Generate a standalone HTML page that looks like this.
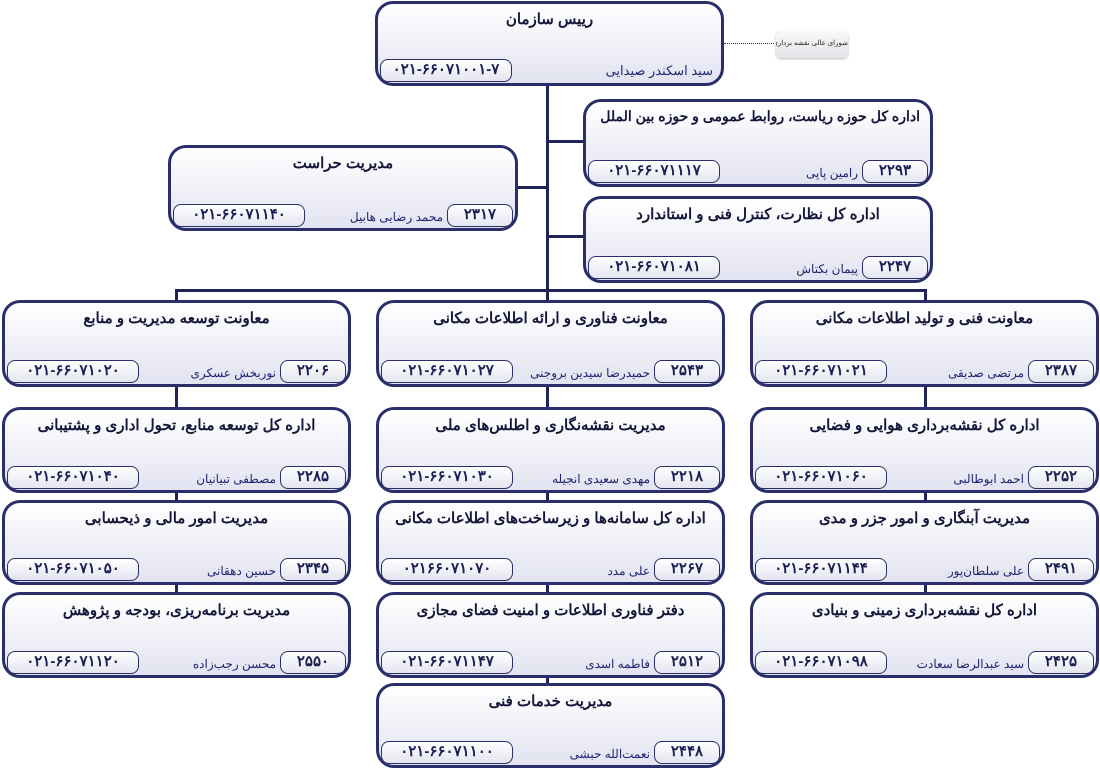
<!DOCTYPE html>
<html><head><meta charset="utf-8"><style>
body{margin:0;width:1100px;height:768px;background:#fff;position:relative;overflow:hidden;font-family:"Liberation Sans","Noto Sans CJK SC",sans-serif;}
.b{position:absolute;box-sizing:border-box;border:3px solid #2a2f6b;border-radius:18px;background:linear-gradient(#ffffff,#e2e3f1);}
.t{position:absolute;left:0;right:0;top:6px;text-align:center;direction:rtl;font-weight:bold;font-size:15px;color:#15173a;white-space:nowrap;}
.p{position:absolute;box-sizing:border-box;bottom:1px;height:23px;border:1.5px solid #2a2f6b;border-radius:8px;background:linear-gradient(#ffffff,#e4e5ef);font-weight:bold;font-size:15px;color:#1b1f55;text-align:center;line-height:20px;}
.ph{left:2px;width:132px;direction:ltr;}
.ex{right:2px;width:66px;}
.n{position:absolute;bottom:4px;right:72px;direction:rtl;font-size:12px;color:#1d2470;}
.l{position:absolute;background:#1f2356;}
</style></head><body>
<div class="l" style="left:546px;top:84px;width:3px;height:208px"></div>
<div class="l" style="left:175px;top:289px;width:752px;height:3px"></div>
<div class="l" style="left:175px;top:289px;width:3px;height:12px"></div>
<div class="l" style="left:924px;top:289px;width:3px;height:12px"></div>
<div class="l" style="left:546px;top:289px;width:3px;height:12px"></div>
<div class="l" style="left:546px;top:140px;width:38px;height:3px"></div>
<div class="l" style="left:546px;top:235px;width:38px;height:3px"></div>
<div class="l" style="left:516px;top:186px;width:32px;height:3px"></div>
<div class="l" style="left:175px;top:385px;width:3px;height:210px"></div>
<div class="l" style="left:546px;top:385px;width:3px;height:300px"></div>
<div class="l" style="left:924px;top:385px;width:3px;height:210px"></div>
<div style="position:absolute;left:724px;top:43px;width:50px;border-top:1.5px dotted #333"></div>
<div style="position:absolute;left:776px;top:30px;width:72px;height:28px;border-radius:5px;background:linear-gradient(#fafafa,#e4e4ea);box-shadow:0 1px 2px #bbb;font-size:7px;text-align:center;line-height:28px;direction:rtl;color:#222;white-space:nowrap;overflow:hidden">شورای عالی نقشه برداری</div>

<div class="b" style="left:375px;top:1px;width:349px;height:85px"><div class="t">رییس سازمان</div><div class="p ph">۰۲۱-۶۶۰۷۱۰۰۱-۷</div><div class="n" style="right:8px;font-size:13px">سید اسکندر صیدایی</div></div>
<div class="b" style="left:583px;top:99px;width:350px;height:88px"><div class="t" style="text-align:right;right:10px;font-size:14px">اداره کل حوزه ریاست، روابط عمومی و حوزه بین الملل</div><div class="p ph">۰۲۱-۶۶۰۷۱۱۱۷</div><div class="n">رامین پاپی</div><div class="p ex">۲۲۹۳</div></div>
<div class="b" style="left:583px;top:196px;width:350px;height:87px"><div class="t">اداره کل نظارت، کنترل فنی و استاندارد</div><div class="p ph">۰۲۱-۶۶۰۷۱۰۸۱</div><div class="n">پیمان بکتاش</div><div class="p ex">۲۲۴۷</div></div>
<div class="b" style="left:168px;top:145px;width:350px;height:86px"><div class="t">مدیریت حراست</div><div class="p ph">۰۲۱-۶۶۰۷۱۱۴۰</div><div class="n">محمد رضایی هابیل</div><div class="p ex">۲۳۱۷</div></div>

<div class="b" style="left:2px;top:300px;width:349px;height:87px"><div class="t">معاونت توسعه مدیریت و منابع</div><div class="p ph">۰۲۱-۶۶۰۷۱۰۲۰</div><div class="n">نوربخش عسکری</div><div class="p ex">۲۲۰۶</div></div>
<div class="b" style="left:2px;top:407px;width:349px;height:86px"><div class="t">اداره کل توسعه منابع، تحول اداری و پشتیبانی</div><div class="p ph">۰۲۱-۶۶۰۷۱۰۴۰</div><div class="n">مصطفی تبیانیان</div><div class="p ex">۲۲۸۵</div></div>
<div class="b" style="left:2px;top:500px;width:349px;height:85px"><div class="t">مدیریت امور مالی و ذیحسابی</div><div class="p ph">۰۲۱-۶۶۰۷۱۰۵۰</div><div class="n">حسین دهقانی</div><div class="p ex">۲۳۴۵</div></div>
<div class="b" style="left:2px;top:592px;width:349px;height:86px"><div class="t">مدیریت برنامه‌ریزی، بودجه و پژوهش</div><div class="p ph">۰۲۱-۶۶۰۷۱۱۲۰</div><div class="n">محسن رجب‌زاده</div><div class="p ex">۲۵۵۰</div></div>

<div class="b" style="left:376px;top:300px;width:349px;height:87px"><div class="t">معاونت فناوری و ارائه اطلاعات مکانی</div><div class="p ph">۰۲۱-۶۶۰۷۱۰۲۷</div><div class="n">حمیدرضا سیدین بروجنی</div><div class="p ex">۲۵۴۳</div></div>
<div class="b" style="left:376px;top:407px;width:349px;height:86px"><div class="t">مدیریت نقشه‌نگاری و اطلس‌های ملی</div><div class="p ph">۰۲۱-۶۶۰۷۱۰۳۰</div><div class="n">مهدی سعیدی انجیله</div><div class="p ex">۲۲۱۸</div></div>
<div class="b" style="left:376px;top:500px;width:349px;height:85px"><div class="t">اداره کل سامانه‌ها و زیرساخت‌های اطلاعات مکانی</div><div class="p ph">۰۲۱۶۶۰۷۱۰۷۰</div><div class="n">علی مدد</div><div class="p ex">۲۲۶۷</div></div>
<div class="b" style="left:376px;top:592px;width:349px;height:86px"><div class="t">دفتر فناوری اطلاعات و امنیت فضای مجازی</div><div class="p ph">۰۲۱-۶۶۰۷۱۱۴۷</div><div class="n">فاطمه اسدی</div><div class="p ex">۲۵۱۲</div></div>
<div class="b" style="left:376px;top:683px;width:349px;height:85px"><div class="t">مدیریت خدمات فنی</div><div class="p ph">۰۲۱-۶۶۰۷۱۱۰۰</div><div class="n">نعمت‌الله حبشی</div><div class="p ex">۲۴۴۸</div></div>

<div class="b" style="left:750px;top:300px;width:349px;height:87px"><div class="t">معاونت فنی و تولید اطلاعات مکانی</div><div class="p ph">۰۲۱-۶۶۰۷۱۰۲۱</div><div class="n">مرتضی صدیقی</div><div class="p ex">۲۳۸۷</div></div>
<div class="b" style="left:750px;top:407px;width:349px;height:86px"><div class="t">اداره کل نقشه‌برداری هوایی و فضایی</div><div class="p ph">۰۲۱-۶۶۰۷۱۰۶۰</div><div class="n">احمد ابوطالبی</div><div class="p ex">۲۲۵۲</div></div>
<div class="b" style="left:750px;top:500px;width:349px;height:85px"><div class="t">مدیریت آبنگاری و امور جزر و مدی</div><div class="p ph">۰۲۱-۶۶۰۷۱۱۴۴</div><div class="n">علی سلطان‌پور</div><div class="p ex">۲۴۹۱</div></div>
<div class="b" style="left:750px;top:592px;width:349px;height:86px"><div class="t">اداره کل نقشه‌برداری زمینی و بنیادی</div><div class="p ph">۰۲۱-۶۶۰۷۱۰۹۸</div><div class="n">سید عبدالرضا سعادت</div><div class="p ex">۲۴۲۵</div></div>
</body></html>
